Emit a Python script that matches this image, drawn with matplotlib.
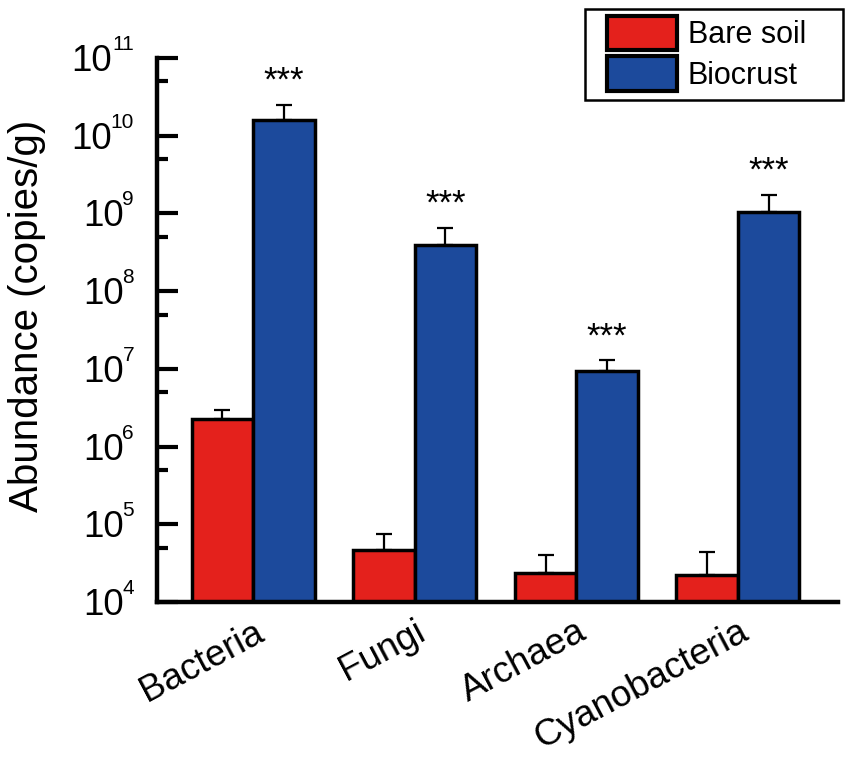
import matplotlib
matplotlib.use('Agg')
import matplotlib.pyplot as plt
import matplotlib.patches as mpatches
import numpy as np

plt.rcParams['font.family'] = ['Liberation Sans', 'DejaVu Sans']

groups = ['Bacteria', 'Fungi', 'Archaea', 'Cyanobacteria']
bare = [2.27e6, 4.6e4, 2.36e4, 2.22e4]
bare_err = [0.7e6, 2.9e4, 1.65e4, 2.2e4]
crust = [1.6e10, 3.9e8, 9.4e6, 1.04e9]
crust_err = [0.9e10, 2.6e8, 3.6e6, 0.69e9]
stars = ['***', '***', '***', '***']
decades = list(range(4, 12))

red = '#e4211c'
blue = '#1c4a9c'

fig = plt.figure(figsize=(8.5, 7.61), dpi=100)
ax = fig.add_axes([157/850, 1 - 602/761, 681/850, 544/761])

x = np.arange(len(groups))
w = 0.38
ax.bar(x - w/2, bare, w, color=red, edgecolor='black', linewidth=2.5,
       label='Bare soil', zorder=2)
ax.bar(x + w/2, crust, w, color=blue, edgecolor='black', linewidth=2.5,
       label='Biocrust', zorder=2)
ax.errorbar(x - w/2, bare, yerr=[np.zeros(4), bare_err], fmt='none', ecolor='black',
            elinewidth=1.6, capsize=6, capthick=1.6, zorder=1)
ax.errorbar(x + w/2, crust, yerr=[np.zeros(4), crust_err], fmt='none', ecolor='black',
            elinewidth=1.6, capsize=6, capthick=1.6, zorder=1)

# significance stars above the biocrust bars
for i in range(len(groups)):
    ax.annotate(stars[i], (x[i] + w/2, crust[i] + crust_err[i]), xytext=(0, 10),
                textcoords='offset points', ha='center', va='baseline', fontsize=25)

ax.set_yscale('log')
ax.set_ylim(1e4, 1e11)
ax.set_xlim(-0.595, 3.62)
ax.set_yticks([10.0**k for k in decades])
ax.set_yticks([5 * 10.0**k for k in decades[:-1]], minor=True)
ax.set_yticklabels([])
ax.set_yticklabels([], minor=True)
ax.tick_params(axis='y', which='major', direction='in', length=15, width=3)
ax.tick_params(axis='y', which='minor', direction='in', length=8, width=3)

# y tick labels: big "10" plus a small exponent, right aligned
for k in decades:
    sup = str(k)
    ax.annotate(sup, xy=(0, 10.0**k), xycoords=('axes fraction', 'data'),
                xytext=(-16.5, 5.8), textcoords='offset points',
                ha='right', va='baseline', fontsize=15)
    ax.annotate('10', xy=(0, 10.0**k), xycoords=('axes fraction', 'data'),
                xytext=(-15.5 - 8.34 * len(sup), -9.4), textcoords='offset points',
                ha='right', va='baseline', fontsize=26.5)

ax.tick_params(axis='x', length=0, pad=9)
ax.set_xticks(x)
ax.set_xticklabels(groups, fontsize=26.5, rotation=28, ha='right', va='top',
                   rotation_mode='anchor')

fig.text(27/850, 1 - 316/761, 'Abundance (copies/g)', rotation=90, fontsize=29,
         ha='center', va='center')

ax.spines['top'].set_visible(False)
ax.spines['right'].set_visible(False)
ax.spines['left'].set_linewidth(3.2)
ax.spines['bottom'].set_linewidth(3.2)

# legend box drawn separately so the padding matches
fig.patches.append(mpatches.Rectangle((585/850, 1 - 100/761), 258/850, 91/761,
                                      transform=fig.transFigure, fill=False,
                                      edgecolor='black', linewidth=1.8))
leg = ax.legend(loc='upper left', bbox_to_anchor=(607/850, 1 - 16/761),
                bbox_transform=fig.transFigure, borderaxespad=0, borderpad=0,
                fontsize=22, frameon=False, handlelength=2.3, handleheight=1.35,
                labelspacing=0.2, handletextpad=0.35)
for h in leg.legend_handles:
    h.set_linewidth(3)

fig.savefig('out.png', dpi=100)
